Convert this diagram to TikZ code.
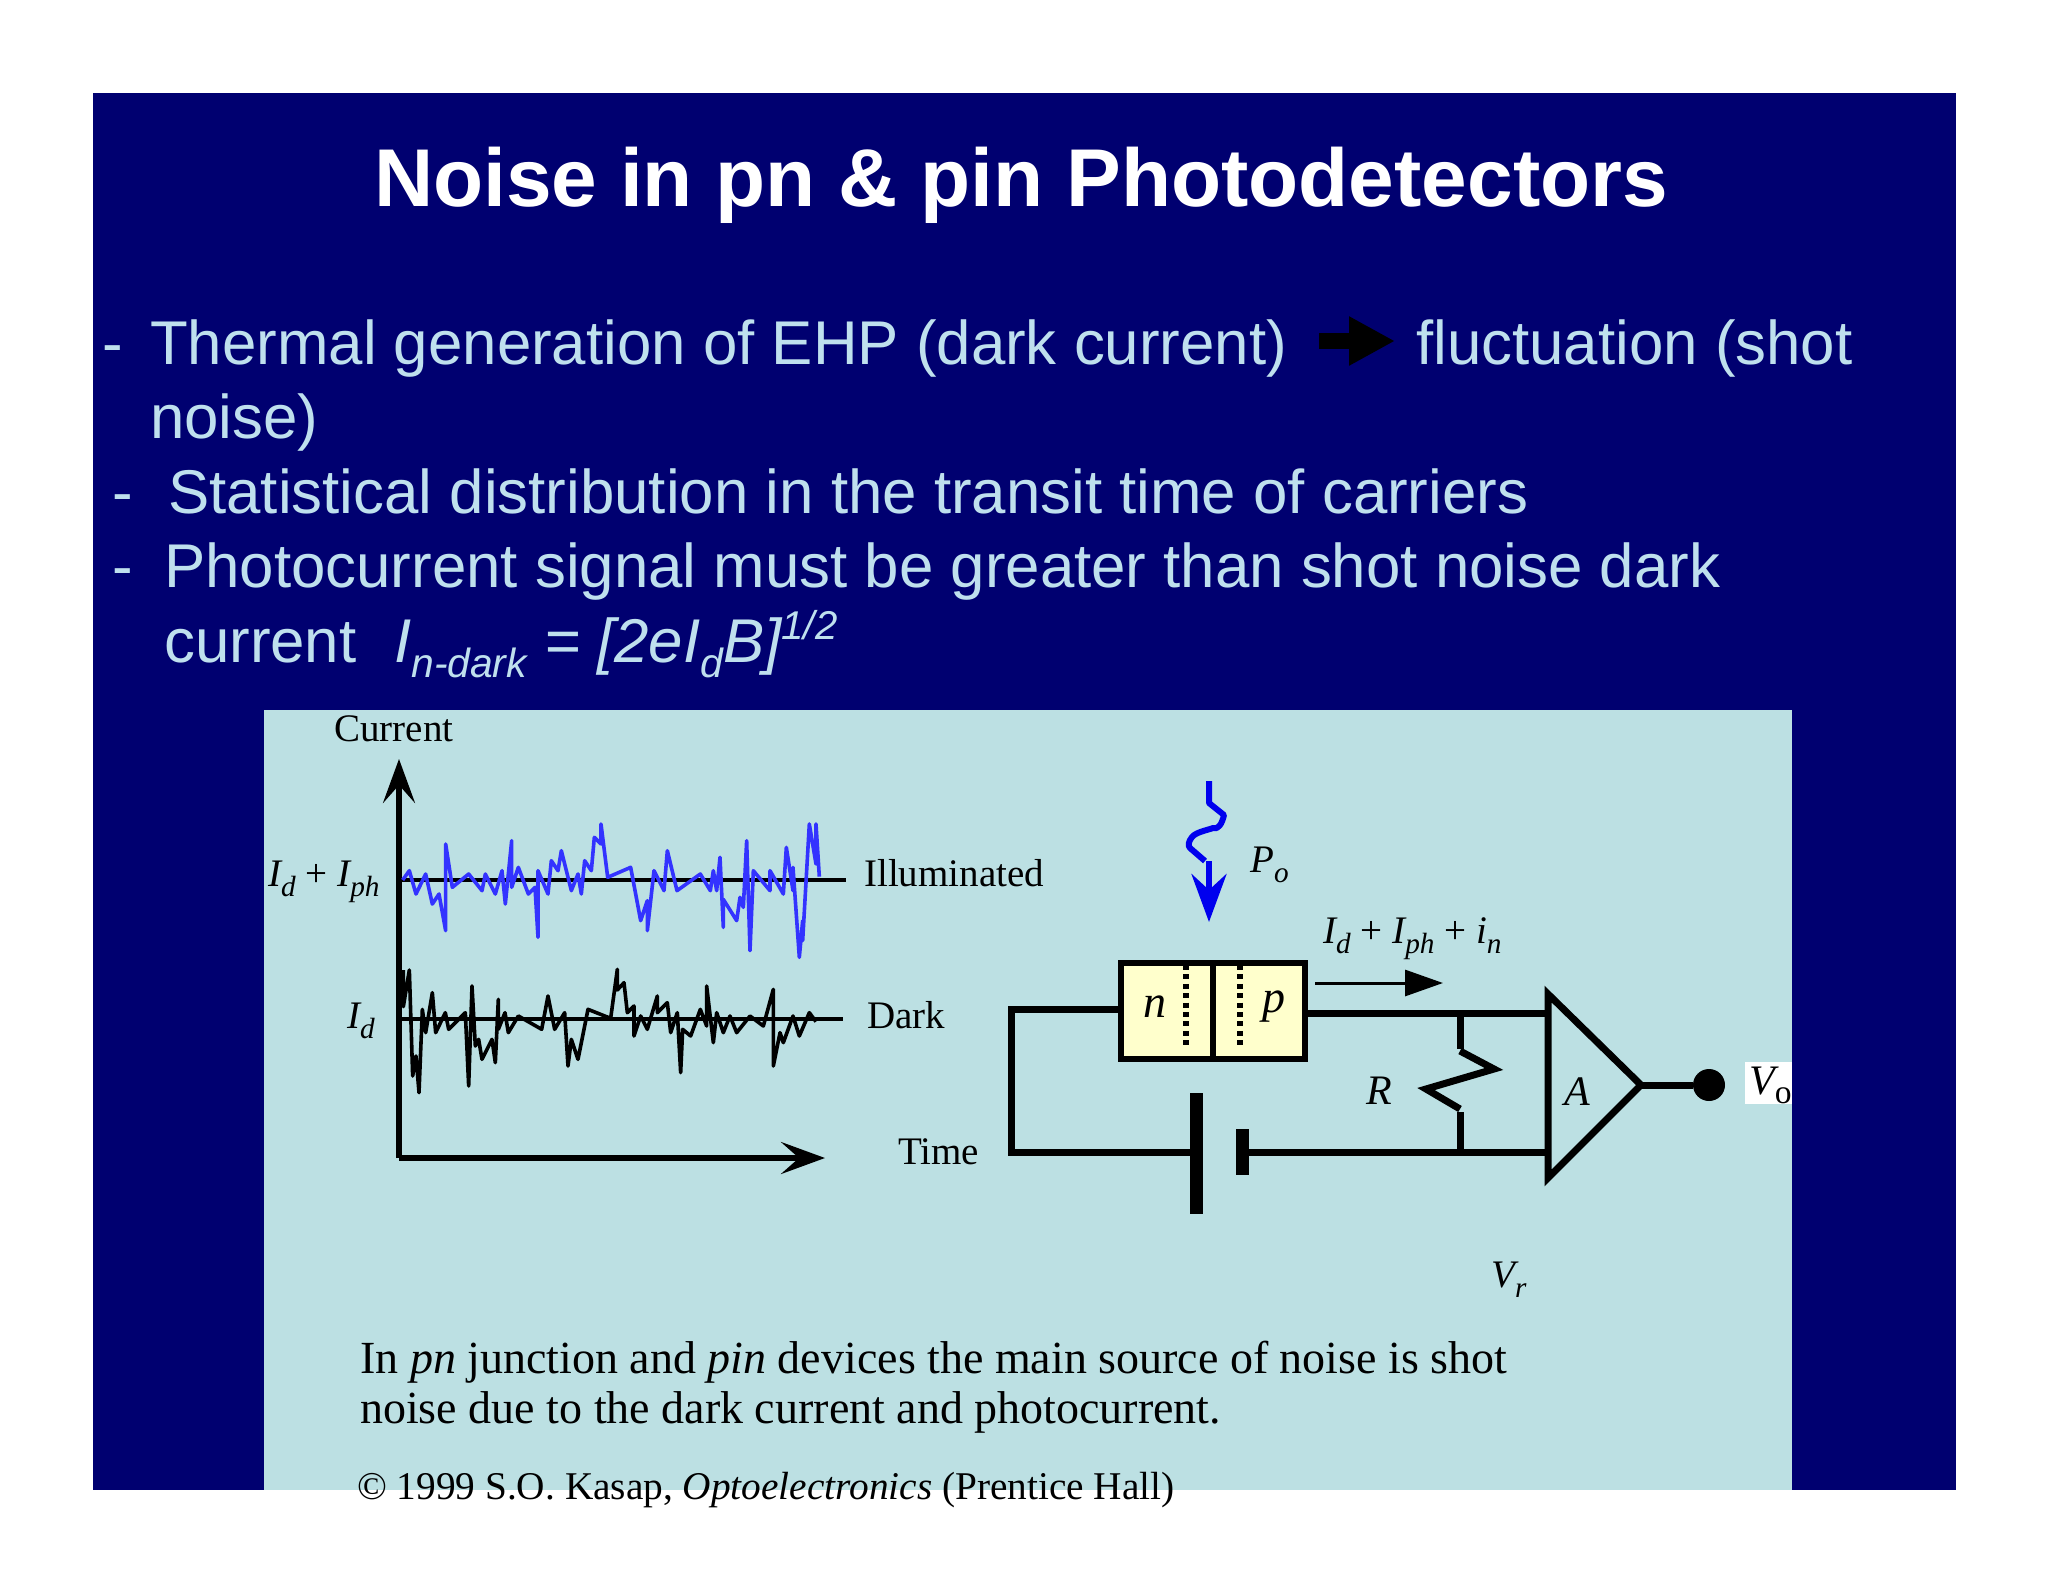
\documentclass[tikz,border=0pt]{standalone}
\usepackage{fontspec}
\setmainfont{Liberation Serif}
\newfontfamily\slidefont{Liberation Sans}
\usetikzlibrary{arrows.meta}
\definecolor{slidenavy}{HTML}{000070}
\definecolor{panelblue}{HTML}{BCE0E3}
\definecolor{bulletblue}{HTML}{BFE0EE}
\definecolor{traceblue}{HTML}{3333FF}
\definecolor{photonblue}{HTML}{0000EE}
\definecolor{deviceyellow}{HTML}{FFFFCC}
\newcommand{\lowtext}[1]{\raisebox{-0.27em}{\scalebox{0.75}{#1}}}
\newcommand{\lowsmall}[1]{\raisebox{-0.25em}{\scalebox{0.66}{#1}}}
\newcommand{\hightext}[1]{\raisebox{0.36em}{\scalebox{0.65}{#1}}}
\def\bulletnode{\node[anchor=base west,inner sep=0pt,text=bulletblue,font=\slidefont\fontsize{61.8}{62}\selectfont]}
\def\figlabel{\node[anchor=base west,inner sep=0pt,font=\fontsize{39}{39}\selectfont]}
\def\bigfiglabel{\node[anchor=base west,inner sep=0pt,font=\fontsize{42}{42}\selectfont]}
\def\captionline{\node[anchor=base west,inner sep=0pt,font=\fontsize{46}{46}\selectfont]}
\def\drawwire{\draw[line width=7pt]}
\def\drawaxis{\draw[line width=5.5pt,-{Stealth[length=44pt,width=32pt,inset=18pt]}]}
\def\drawtrace{\draw[line width=3.6pt,line join=round]}
\begin{document}
\begin{tikzpicture}[x=1pt,y=-1pt]
\useasboundingbox (0,0) rectangle (2048,1582);
\fill[white] (0,0) rectangle (2048,1582);
\fill[slidenavy] (93,93) rectangle (1956,1490);
\fill[panelblue] (264,710) rectangle (1792,1490);
\node[anchor=base,inner sep=0pt,text=white,font=\slidefont\bfseries\fontsize{82}{82}\selectfont] (title) at (1021,206) {Noise in pn \& pin Photodetectors};
\bulletnode (dashone) at (102,364) {-};
\bulletnode (thermal) at (150,364) {Thermal generation of EHP (dark current)};
\bulletnode (fluct) at (1416,364) {fluctuation (shot};
\bulletnode (noise) at (150,438) {noise)};
\bulletnode (dashtwo) at (112,513) {-};
\bulletnode (statistical) at (168,513) {Statistical distribution in the transit time of carriers};
\bulletnode (dashthree) at (112,587) {-};
\bulletnode (photocurrent) at (164,587) {Photocurrent signal must be greater than shot noise dark};
\bulletnode (current) at (164,662) {current};
\bulletnode (formula) at (394,662) {\itshape I\lowsmall{n-dark} = [2eI\lowsmall{d}B]\hightext{1/2}};
\coordinate (fatstart) at (1319,341);
\coordinate (fatend) at (1395,341);
\draw[line width=16pt,-{Triangle[length=46pt,width=46pt]}] (fatstart) -- (fatend);
\coordinate (origin) at (399,1158);
\coordinate (ytip) at (399,759);
\coordinate (xtip) at (825,1158);
\drawaxis (origin) -- (ytip);
\drawaxis (origin) -- (xtip);
\figlabel (currentlab) at (334,741) {Current};
\figlabel (illumlab) at (864,886) {Illuminated};
\figlabel (darklab) at (867,1028) {Dark};
\figlabel (timelab) at (898,1164) {Time};
\figlabel (idiph) at (268,886) {\itshape I\lowtext{d} \upshape+ \itshape I\lowtext{ph}};
\figlabel (idlab) at (347,1028) {\itshape I\lowtext{d}};
\coordinate (litleft) at (402,880);
\coordinate (litright) at (846,880);
\coordinate (darkleft) at (399,1019);
\coordinate (darkright) at (843,1019);
\draw[line width=4pt] (litleft) -- (litright);
\draw[line width=4pt] (darkleft) -- (darkright);
\begin{scope}[shift={(390,800)},scale=1/3]
\drawtrace[traceblue] plot coordinates {(38,240) (58,212) (78,282) (107,222) (127,312) (147,282) (167,392) (167,132) (187,262) (236,222) (276,272) (286,222) (316,282) (336,212) (346,312) (365,122) (365,262) (385,202) (415,282) (435,262) (444,412) (444,212) (474,282) (484,182) (504,212) (514,152) (544,272) (564,222) (574,282) (584,182) (604,212) (613,112) (633,132) (633,72) (653,232) (722,202) (752,362) (772,302) (772,392) (792,212) (822,272) (832,152) (861,272) (931,222) (961,272) (970,212) (980,272) (990,172) (1000,382) (1000,298) (1040,362) (1050,292) (1060,322) (1070,122) (1080,452) (1090,212) (1140,272) (1140,212) (1180,282) (1189,142) (1209,272) (1209,202) (1228,472) (1238,362) (1238,422) (1258,72) (1278,192) (1278,72) (1288,230)};
\end{scope}
\begin{scope}[shift={(390,950)},scale=1/3]
\drawtrace plot coordinates {(40,60) (40,170) (58,60) (68,378) (78,318) (87,428) (97,178) (107,248) (127,128) (137,248) (166,188) (176,238) (226,188) (236,408) (246,108) (256,288) (266,268) (276,328) (306,268) (316,338) (325,148) (325,238) (345,188) (355,248) (385,198) (455,238) (474,138) (494,238) (524,188) (534,348) (544,268) (564,328) (594,178) (662,205) (682,58) (682,120) (702,98) (712,188) (732,168) (732,258) (752,198) (772,238) (802,138) (802,188) (832,158) (842,248) (862,188) (872,368) (878,238) (902,258) (931,178) (950,228) (950,108) (970,278) (980,188) (1000,248) (1020,198) (1040,248) (1080,198) (1120,228) (1150,118) (1150,348) (1170,248) (1180,278) (1209,198) (1228,258) (1258,188) (1278,215)};
\end{scope}
\draw[photonblue,line width=6pt,line join=round] (1209,781) -- (1209,803) -- (1224,815) .. controls (1222,824) and (1218,830) .. (1213,828) .. controls (1208,830) and (1196,832) .. (1192,837) .. controls (1188,842) and (1188,846) .. (1190,848) -- (1205,861);
\coordinate (photonstart) at (1209,861);
\coordinate (photonend) at (1209,922);
\draw[photonblue,line width=6pt,-{Stealth[length=48pt,width=35pt,inset=16pt]}] (photonstart) -- (photonend);
\figlabel (polab) at (1250,872) {\itshape P\lowtext{o}};
\figlabel (currlab) at (1323,943) {\itshape I\lowtext{d} \upshape+ \itshape I\lowtext{ph} \upshape+ \itshape i\lowtext{n}};
\coordinate (flowstart) at (1315,983);
\coordinate (flowend) at (1443,983);
\draw[line width=3pt,-{Triangle[length=38pt,width=26pt]}] (flowstart) -- (flowend);
\node[draw,line width=6pt,fill=deviceyellow,minimum width=184pt,minimum height=96pt,inner sep=0pt] (device) at (1213,1011) {};
\draw[line width=6pt] (device.north) -- (device.south);
\draw[line width=6pt,dash pattern=on 5pt off 4.4pt] (1186,965) -- (1186,1049);
\draw[line width=6pt,dash pattern=on 5pt off 4.4pt] (1240,965) -- (1240,1049);
\node[inner sep=0pt,font=\itshape\fontsize{46}{46}\selectfont] (nlab) at (1155,1007) {n};
\node[inner sep=0pt,font=\itshape\fontsize{46}{46}\selectfont] (plab) at (1274,1007) {p};
\coordinate (cornertop) at (1011,1009);
\coordinate (cornerbot) at (1011,1152);
\coordinate (longplate) at (1196,1152);
\coordinate (shortplate) at (1242,1152);
\coordinate (ampa) at (1548,994);
\coordinate (ampb) at (1548,1178);
\coordinate (amptip) at (1641,1085);
\coordinate (ampin) at (1548,1013);
\coordinate (ampret) at (1548,1152);
\coordinate (rtop) at (1460,1013);
\coordinate (rbot) at (1460,1152);
\drawwire[line join=miter] (device.west |- cornertop) -- (cornertop) -- (cornerbot) -- (longplate);
\draw[line width=13pt] (1196,1093) -- (1196,1214);
\draw[line width=13pt] (1242,1129) -- (1242,1175);
\drawwire (shortplate) -- (ampret);
\drawwire (device.east |- ampin) -- (ampin);
\drawwire (rtop) -- (1460,1049);
\drawwire[line join=miter] (1460,1051) -- (1494,1069) -- (1426,1089) -- (1460,1109);
\drawwire (1460,1112) -- (rbot);
\drawwire[line join=miter] (ampb) -- (ampa) -- (amptip) -- cycle;
\node[circle,fill=black,minimum size=32pt,inner sep=0pt] (vdot) at (1709,1085) {};
\drawwire (amptip) -- (vdot);
\bigfiglabel (rlab) at (1366,1104) {\itshape R};
\bigfiglabel (alab) at (1564,1105) {\itshape A};
\fill[white] (1745,1062) rectangle (1792,1104);
\bigfiglabel (volab) at (1749,1094) {\itshape V\raisebox{-0.22em}{\scalebox{0.8}{\upshape o}}};
\figlabel (vrlab) at (1491,1287) {\itshape V\lowtext{r}};
\captionline (textone) at (360,1373) {In \textit{pn} junction and \textit{pin} devices the main source of noise is shot};
\captionline (texttwo) at (360,1423) {noise due to the dark current and photocurrent.};
\node[anchor=base west,inner sep=0pt,font=\fontsize{39.3}{39}\selectfont] (copyright) at (357,1499) {© 1999 S.O. Kasap, \textit{Optoelectronics} (Prentice Hall)};
\end{tikzpicture}
\end{document}
